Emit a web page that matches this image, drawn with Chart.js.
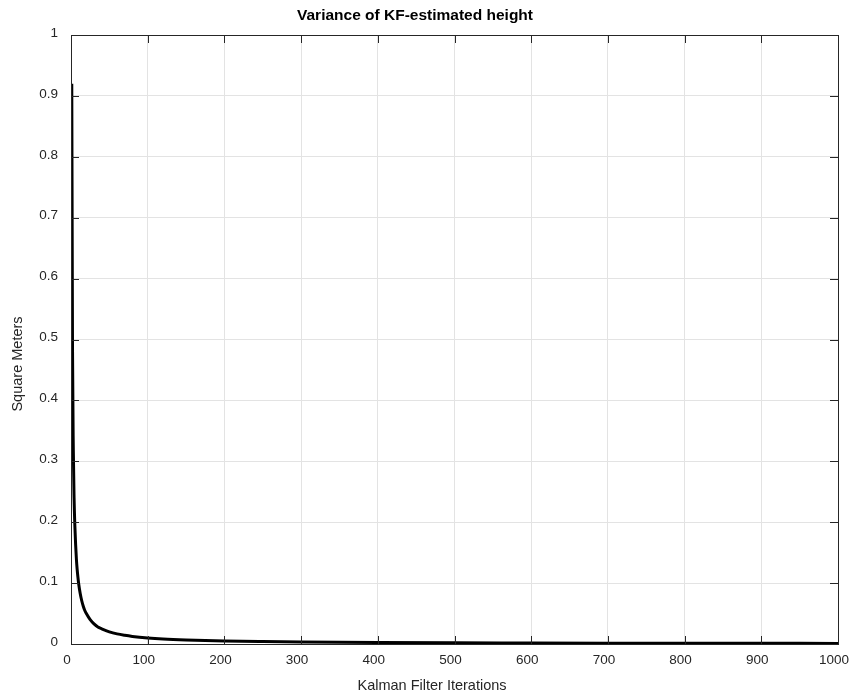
<!DOCTYPE html>
<html>
<head>
<meta charset="utf-8">
<script src="https://cdn.jsdelivr.net/npm/chart.js@4"></script>
<style>
  html, body { margin: 0; padding: 0; background: #fff; }
  #wrap { width: 850px; height: 697px; }
</style>
</head>
<body>
<div id="wrap"><canvas id="varChart" width="850" height="697"></canvas></div>
<script>
// values
const iterations = [1, 2, 3, 4, 5, 6, 7, 8, 9, 10, 12, 14, 16, 18, 20, 25, 30, 35, 40, 50, 60, 70, 80, 100,
    120, 150, 200, 250, 300, 400, 500, 600, 700, 800, 900, 1000];
const variance = [0.92, 0.48, 0.32, 0.24, 0.195, 0.164, 0.14, 0.123, 0.11, 0.099, 0.083, 0.071, 0.062, 0.055, 0.05,
    0.04, 0.033, 0.028, 0.025, 0.02, 0.0166, 0.0143, 0.0125, 0.01, 0.0083, 0.0067, 0.005, 0.004, 0.0033,
    0.0025, 0.002, 0.0017, 0.0014, 0.0012, 0.0011, 0.001];
const xTicks = [0, 100, 200, 300, 400, 500, 600, 700, 800, 900, 1000];
const yTicks = [0, 0.1, 0.2, 0.3, 0.4, 0.5, 0.6, 0.7, 0.8, 0.9, 1];

const titleText = 'Variance of KF-estimated height';
const xLabel = 'Kalman Filter Iterations';
const yLabel = 'Square Meters';

const FONT = "'Liberation Sans', Arial, Helvetica, sans-serif";
const AXIS_COLOR = '#262626';
const GRID_COLOR = '#e3e3e3';

// MATLAB-style box with inward ticks on all four sides, plus the labels
const boxPlugin = {
    id: 'matlabBox',
    afterDatasetsDraw(chart) {
        const { ctx, chartArea: a, scales } = chart;
        const len = 8;
        ctx.save();
        ctx.strokeStyle = AXIS_COLOR;
        ctx.lineWidth = 1;
        ctx.beginPath();
        xTicks.forEach(v => {
            const px = Math.round(scales.x.getPixelForValue(v)) + 0.5;
            ctx.moveTo(px, a.bottom); ctx.lineTo(px, a.bottom - len);
            ctx.moveTo(px, a.top); ctx.lineTo(px, a.top + len);
        });
        yTicks.forEach(v => {
            const py = Math.round(scales.y.getPixelForValue(v)) + 0.5;
            ctx.moveTo(a.left, py); ctx.lineTo(a.left + len, py);
            ctx.moveTo(a.right, py); ctx.lineTo(a.right - len, py);
        });
        ctx.stroke();
        ctx.strokeRect(Math.round(a.left) + 0.5, Math.round(a.top) + 0.5,
            Math.round(a.right - a.left), Math.round(a.bottom - a.top));

        // title and axis labels sit where the reference has them
        ctx.textAlign = 'center';
        ctx.textBaseline = 'middle';
        ctx.fillStyle = '#000';
        ctx.font = `bold 15.5px ${FONT}`;
        ctx.fillText(titleText, 415, 16);
        ctx.fillStyle = AXIS_COLOR;
        ctx.font = `14.5px ${FONT}`;
        ctx.fillText(xLabel, 432, 686);
        ctx.translate(18, 364);
        ctx.rotate(-Math.PI / 2);
        ctx.fillText(yLabel, 0, 0);
        ctx.restore();
    }
};

const ctx = document.getElementById('varChart').getContext('2d');
new Chart(ctx, {
    type: 'line',
    data: {
        datasets: [{
            data: iterations.map((k, i) => ({ x: k, y: variance[i] })),
            borderColor: '#000',
            borderWidth: 3,
            pointRadius: 0,
            cubicInterpolationMode: 'monotone',
            fill: false
        }]
    },
    options: {
        responsive: false,
        animation: false,
        layout: { padding: { left: 0, right: 12, top: 35, bottom: 0 } },
        plugins: {
            legend: { display: false },
            tooltip: { enabled: false },
            title: { display: false }
        },
        scales: {
            x: {
                type: 'linear',
                min: 0,
                max: 1000,
                afterBuildTicks: s => { s.ticks = xTicks.map(v => ({ value: v })); },
                afterFit: s => { s.height = 53; s.paddingLeft = 0; s.paddingRight = 0; },
                grid: { color: GRID_COLOR, drawTicks: false },
                border: { display: false },
                ticks: {
                    color: AXIS_COLOR,
                    padding: 8,
                    labelOffset: -4,
                    maxRotation: 0,
                    font: { family: FONT, size: 13.5 },
                    callback: v => String(v)
                }
            },
            y: {
                min: 0,
                max: 1,
                afterBuildTicks: s => { s.ticks = yTicks.map(v => ({ value: v })); },
                afterFit: s => { s.width = 71; s.paddingTop = 0; s.paddingBottom = 0; },
                grid: { color: GRID_COLOR, drawTicks: false },
                border: { display: false },
                ticks: {
                    color: AXIS_COLOR,
                    padding: 13,
                    labelOffset: -2,
                    font: { family: FONT, size: 13.5 },
                    callback: v => String(Math.round(v * 10) / 10)
                }
            }
        }
    },
    plugins: [boxPlugin]
});
</script>
</body>
</html>
